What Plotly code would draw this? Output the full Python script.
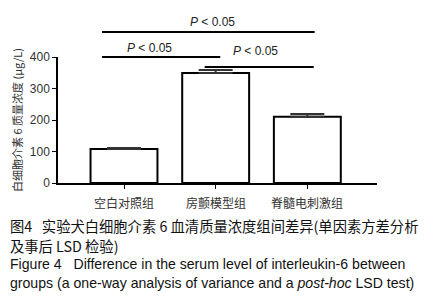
import plotly.graph_objects as go

categories = ["空白对照组", "房颤模型组", "脊髓电刺激组"]
means = [108, 349, 210]
errors = [3, 10, 9]
y_ticks = [0, 100, 200, 300, 400]
sig_labels = ["<i>P</i> < 0.05", "<i>P</i> < 0.05", "<i>P</i> < 0.05"]

# page has an 8px body margin; compensate
OFF = 8
XMIN, XMAX = -0.72, 2.76
YMAX = 400
W, H = 441 - 2 * OFF, 300 - 2 * OFF
L, T = 58 - OFF, 57 - OFF
PW, PH = 319, 126
R, B = W - L - PW, H - T - PH

def xp(px):  # reference pixel -> paper
    return (px - OFF - L) / PW

def yp(py):
    return (T + PH - (py - OFF)) / PH

def xd(v):
    return (v - XMIN) / (XMAX - XMIN)

def yd(v):
    return v / YMAX

fig = go.Figure()
fig.add_trace(go.Bar(
    x=list(range(len(categories))), y=means,
    width=0.73,
    marker=dict(color="white", line=dict(color="black", width=2)),
    error_y=dict(type="data", array=errors, arrayminus=[0, 0, 0], symmetric=False,
                 color="#333", thickness=2, width=17),
    showlegend=False,
))

# significance brackets (start, end, line level, text level, text x)
brackets = [
    (-0.24, 2.08, 479, 511, 0.96),
    (-0.24, 1.05, 400, 429, 0.28),
    (0.88, 2.07, 368, 419, 1.43),
]
shapes = []
annotations = []
for (x0, x1, yl, yt, xt), lab in zip(brackets, sig_labels):
    shapes.append(dict(type="line", xref="paper", yref="paper",
                       x0=xd(x0), x1=xd(x1), y0=yd(yl), y1=yd(yl),
                       line=dict(color="black", width=2)))
    annotations.append(dict(xref="paper", yref="paper", x=xd(xt), y=yd(yt),
                            xanchor="center", yanchor="middle",
                            text=lab, showarrow=False,
                            font=dict(family="Liberation Sans, Arial", size=12, color="#222")))

# category labels
for i, c in enumerate(categories):
    annotations.append(dict(xref="x", yref="paper", x=i, y=yp(203),
                            xanchor="center", yanchor="middle", text=c, showarrow=False,
                            font=dict(family="Noto Sans CJK SC", size=12, color="#333")))

annotations.append(dict(xref="paper", yref="paper", x=xp(17), y=yp(120),
                        xanchor="center", yanchor="middle",
                        text="白细胞介素 6 质量浓度 (μg/L)", textangle=-90, showarrow=False,
                        font=dict(family="Noto Sans CJK SC", size=11, color="#333")))

cap_cn = "Noto Sans CJK SC"
cap_en = "Liberation Sans, Arial"
captions = [
    ("图4&#160;&#160;&#160;实验犬白细胞介素 6 血清质量浓度组间差异(单因素方差分析", 225, cap_cn, 14.3),
    ("及事后 LSD 检验)", 245, cap_cn, 14.3),
    ("Figure 4&#160;&#160;&#160;Difference in the serum level of interleukin-6 between", 264, cap_en, 14.1),
    ("groups (a one-way analysis of variance and a <i>post-hoc</i> LSD test)", 283, cap_en, 14.1),
]
for txt, py, fam, sz in captions:
    annotations.append(dict(xref="paper", yref="paper", x=xp(OFF), y=yp(py),
                            xanchor="left", yanchor="middle", text=txt, showarrow=False,
                            font=dict(family=fam, size=sz, color="#111")))

fig.update_layout(
    width=W, height=H, margin=dict(l=L, r=R, t=T, b=B, autoexpand=False),
    plot_bgcolor="white", paper_bgcolor="white",
    shapes=shapes, annotations=annotations,
    xaxis=dict(range=[XMIN, XMAX], tickvals=list(range(len(categories))), showticklabels=False,
               showline=True, linecolor="black", linewidth=1.5, ticks="outside", ticklen=4,
               tickcolor="black", showgrid=False, zeroline=False),
    yaxis=dict(range=[0, YMAX], tickvals=y_ticks, showline=True, linecolor="black", linewidth=1.5,
               ticks="outside", ticklen=4, tickcolor="black", showgrid=False, zeroline=False,
               tickfont=dict(family="Liberation Sans, Arial", size=12, color="#333")),
)

fig.write_html("out.html")
